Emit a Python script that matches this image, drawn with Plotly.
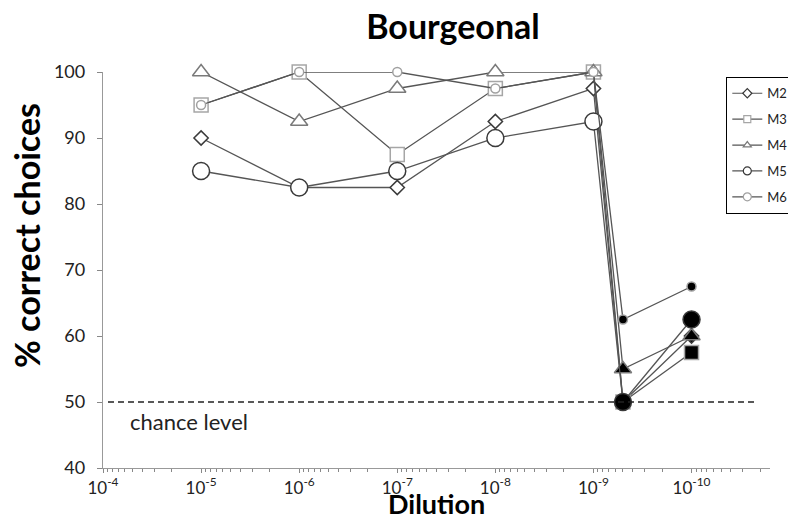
import plotly.graph_objects as go

# ---- data ----
dilutions = [1e-5, 1e-6, 1e-7, 1e-8, 1e-9, 5e-10, 1e-10]
series_names = ["M2", "M3", "M4", "M5", "M6"]
M2 = [90, 82.5, 82.5, 92.5, 97.5, 50, 60]
M3 = [95, 100, 87.5, 97.5, 100, 50, 57.5]
M4 = [100, 92.5, 97.5, 100, 100, 55, 60]
M5 = [85, 82.5, 85, 90, 92.5, 50, 62.5]
M6 = [95, 100, 100, 97.5, 100, 62.5, 67.5]
filled = [False, False, False, False, False, True, True]
tick_vals = [1e-4, 1e-5, 1e-6, 1e-7, 1e-8, 1e-9, 1e-10]
tick_text = ["10<sup>-4</sup>", "10<sup>-5</sup>", "10<sup>-6</sup>", "10<sup>-7</sup>",
             "10<sup>-8</sup>", "10<sup>-9</sup>", "10<sup>-10</sup>"]
chance = 50

# ---- styles ----
FONT = "Lato, 'Open Sans', sans-serif"
styles = {
    "M2": dict(symbol="diamond", size=11, edge="#3a3a3a", lsize=7),
    "M3": dict(symbol="square", size=14, edge="#a6a6a6", lsize=7),
    "M4": dict(symbol="triangle-up", size=15, edge="#7a7a7a", lsize=7),
    "M5": dict(symbol="circle", size=17, edge="#3a3a3a", lsize=8),
    "M6": dict(symbol="circle", size=9, edge="#a0a0a0", lsize=8),
}
values = {"M2": M2, "M3": M3, "M4": M4, "M5": M5, "M6": M6}

fig = go.Figure()
for name in series_names:
    st = styles[name]
    fills = ["black" if f else "white" for f in filled]
    fig.add_trace(go.Scatter(
        x=dilutions, y=values[name], mode="lines+markers", name=name,
        legendgroup=name, showlegend=False,
        line=dict(color="#555555", width=1.3),
        marker=dict(symbol=st["symbol"], size=st["size"], color=fills,
                    line=dict(color=st["edge"], width=1.5)),
        cliponaxis=False,
    ))
# legend entries with small symbols (as in the reference legend)
for name in series_names:
    st = styles[name]
    fig.add_trace(go.Scatter(
        x=[None], y=[None], mode="lines+markers", name=name,
        legendgroup=name, showlegend=True,
        line=dict(color="#555555", width=1.2),
        marker=dict(symbol=st["symbol"], size=st["lsize"], color="white",
                    line=dict(color=st["edge"], width=1.2)),
    ))

L, R, T, B = 103, 18, 72, 52
W, H = 788, 520
pw = W - L - R
ph = H - T - B

fig.add_shape(type="line", xref="paper", yref="y",
              x0=5 / pw, x1=654 / pw, y0=chance, y1=chance,
              line=dict(color="#222222", width=1.6, dash="6px,4px"))
fig.add_annotation(xref="paper", yref="y", x=25 / pw, y=47, xanchor="left",
                   yanchor="middle", text="chance level", showarrow=False,
                   font=dict(family=FONT, size=22, color="#222222"))
# axis titles as annotations for precise placement
fig.add_annotation(xref="paper", yref="paper", x=(436 - L) / pw, y=-(522 - T - ph) / ph,
                   xanchor="center", yanchor="bottom", text="<b>Dilution</b>",
                   showarrow=False, font=dict(family=FONT, size=27, color="black"))
fig.add_annotation(xref="paper", yref="paper", x=-(L - 26) / pw, y=1 - (236 - T) / ph,
                   xanchor="center", yanchor="middle", text="<b>% correct choices</b>",
                   textangle=-90, showarrow=False,
                   font=dict(family=FONT, size=34, color="black"))

fig.update_layout(
    width=W, height=H,
    margin=dict(l=L, r=R, t=T, b=B, autoexpand=False),
    paper_bgcolor="white", plot_bgcolor="white",
    font=dict(family=FONT, color="#222222"),
    title=dict(text="<b>Bourgeonal</b>", x=453 / W, xanchor="center",
               y=1 - 27 / H, yanchor="middle", xref="container", yref="container",
               font=dict(family=FONT, size=34, color="black")),
    legend=dict(x=(726 - L) / pw, xanchor="left", y=1 - (77 - T) / ph,
                yanchor="top", bordercolor="black", borderwidth=1.3,
                bgcolor="white", font=dict(family=FONT, size=13, color="#222222"),
                tracegroupgap=6, itemwidth=30),
    showlegend=True,
)

fig.update_xaxes(
    type="log", range=[-4, -10.8],
    tickvals=tick_vals, ticktext=tick_text,
    ticks="outside", ticklen=4, tickcolor="#888888",
    minor=dict(ticks="outside", ticklen=3, tickcolor="#888888", dtick="D1", showgrid=False),
    showline=True, linecolor="#999999", linewidth=1.3,
    showgrid=False, zeroline=False,
    tickfont=dict(family=FONT, size=17, color="#222222"),
)
fig.update_yaxes(
    range=[40, 100], dtick=10, tick0=40,
    ticks="outside", ticklen=5, tickcolor="#888888",
    showline=True, linecolor="#999999", linewidth=1.3,
    showgrid=False, zeroline=False, ticklabelstandoff=8,
    tickfont=dict(family=FONT, size=18, color="#222222"),
)

fig.write_html("out.html")
